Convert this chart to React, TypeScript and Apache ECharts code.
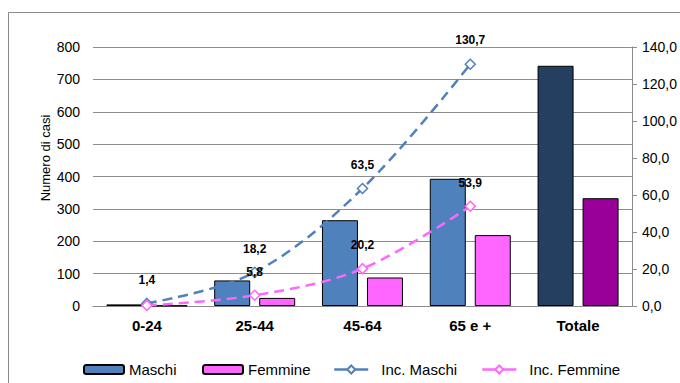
import React, { useEffect, useRef } from "react";
import * as echarts from "echarts";

const categories = ["0-24", "25-44", "45-64", "65 e +", "Totale"];
const maschi = [5, 79, 265, 393, 742];
const femmine = [1, 25, 88, 219, 333];
const incMaschi = [1.4, 18.2, 63.5, 130.7];
const incFemmine = [0.3, 5.8, 20.2, 53.9];
const leftTicks = { min: 0, max: 800, interval: 100 };
const rightTicks = { min: 0, max: 140, interval: 20 };
const yName = "Numero di casi";

const C_M = "#4F81BD";
const C_F = "#FF66FF";
const C_MT = "#243F60";
const C_FT = "#990099";
const FONT = "Liberation Sans, Arial, sans-serif";

const fmt = (v: number) => v.toFixed(1).replace(".", ",");

export default function App() {
  const ref = useRef<HTMLDivElement>(null);
  useEffect(() => {
    const chart = echarts.init(ref.current!, null, { renderer: "svg" });
    const lastIdx = categories.length - 1;
    const labelStyle = {
      show: true,
      position: "top",
      distance: 12,
      fontFamily: FONT,
      fontWeight: "bold",
      fontSize: 12,
      color: "#000",
      formatter: (p: any) => fmt(p.value),
    };
    const legendText = { fontSize: 15, color: "#000", fontFamily: FONT };
    chart.setOption({
      animation: false,
      textStyle: { fontFamily: FONT },
      graphic: [
        {
          type: "rect",
          shape: { x: 8.5, y: 12.5, width: 700, height: 400 },
          style: { fill: "none", stroke: "#8a8a8a", lineWidth: 1 },
          silent: true,
        },
        {
          type: "text",
          x: 45,
          y: 158,
          rotation: Math.PI / 2,
          style: {
            text: yName,
            fontFamily: FONT,
            fontSize: 13,
            fill: "#000",
            align: "center",
            verticalAlign: "middle",
          },
          silent: true,
        },
      ],
      grid: { left: 93, right: 47, top: 47, bottom: 77 },
      legend: [
        {
          data: [{ name: "Maschi" }],
          left: 78,
          top: 357,
          itemWidth: 40,
          itemHeight: 9,
          textStyle: legendText,
        },
        {
          data: [{ name: "Femmine" }],
          left: 197,
          top: 357,
          itemWidth: 40,
          itemHeight: 9,
          textStyle: legendText,
        },
        {
          data: [{ name: "Inc. Maschi" }],
          left: 328,
          top: 357,
          itemWidth: 34,
          itemHeight: 10,
          lineStyle: { type: "solid", width: 2.5 },
          textStyle: { ...legendText, padding: [0, 0, 0, 8] },
        },
        {
          data: [{ name: "Inc. Femmine" }],
          left: 476,
          top: 357,
          itemWidth: 34,
          itemHeight: 10,
          lineStyle: { type: "solid", width: 2.5 },
          textStyle: { ...legendText, padding: [0, 0, 0, 8] },
        },
      ],
      xAxis: {
        type: "category",
        data: categories,
        axisTick: { show: false },
        axisLine: { lineStyle: { color: "#8c8c8c", width: 1 } },
        axisLabel: {
          fontFamily: FONT,
          fontWeight: "bold",
          fontSize: 15,
          color: "#000",
          margin: 12,
        },
      },
      yAxis: [
        {
          type: "value",
          ...leftTicks,
          axisLine: { show: false },
          axisTick: { show: false },
          axisLabel: { fontFamily: FONT, fontSize: 14, color: "#000", margin: 13 },
          splitLine: { lineStyle: { color: "#8c8c8c", width: 1 } },
        },
        {
          type: "value",
          ...rightTicks,
          position: "right",
          axisLine: { show: true, lineStyle: { color: "#8c8c8c", width: 1 } },
          axisTick: { show: true, length: 5, lineStyle: { color: "#8c8c8c" } },
          axisLabel: {
            fontFamily: FONT,
            fontSize: 14,
            color: "#000",
            margin: 10,
            formatter: (v: number) => fmt(v),
          },
          splitLine: { show: false },
        },
      ],
      series: [
        {
          name: "Maschi",
          type: "bar",
          barWidth: 36,
          barGap: "25%",
          yAxisIndex: 0,
          itemStyle: { color: C_M, borderColor: "#000", borderWidth: 1 },
          data: maschi.map((v, i) =>
            i === lastIdx ? { value: v, itemStyle: { color: C_MT } } : v
          ),
          z: 2,
        },
        {
          name: "Femmine",
          type: "bar",
          barWidth: 36,
          barGap: "25%",
          yAxisIndex: 0,
          itemStyle: { color: C_F, borderColor: "#000", borderWidth: 1 },
          data: femmine.map((v, i) =>
            i === lastIdx ? { value: v, itemStyle: { color: C_FT } } : v
          ),
          z: 2,
        },
        {
          name: "Inc. Maschi",
          type: "line",
          yAxisIndex: 1,
          smooth: 0.35,
          symbol: "diamond",
          symbolSize: 10,
          showAllSymbol: true,
          lineStyle: { color: C_M, width: 2.5, type: [10, 6] },
          itemStyle: { color: "#fff", borderColor: C_M, borderWidth: 1.5 },
          label: labelStyle,
          data: incMaschi,
          z: 4,
        },
        {
          name: "Inc. Femmine",
          type: "line",
          yAxisIndex: 1,
          smooth: 0.35,
          symbol: "diamond",
          symbolSize: 10,
          showAllSymbol: true,
          lineStyle: { color: C_F, width: 2.5, type: [10, 6] },
          itemStyle: { color: "#fff", borderColor: C_F, borderWidth: 1.5 },
          label: labelStyle,
          data: incFemmine.map((v, i) =>
            i === 0 ? { value: v, label: { show: false } } : v
          ),
          z: 5,
        },
      ],
    });
    return () => chart.dispose();
  }, []);
  return (
    <div
      ref={ref}
      style={{ position: "fixed", left: 0, top: 0, width: 680, height: 383, background: "#fff" }}
    />
  );
}
